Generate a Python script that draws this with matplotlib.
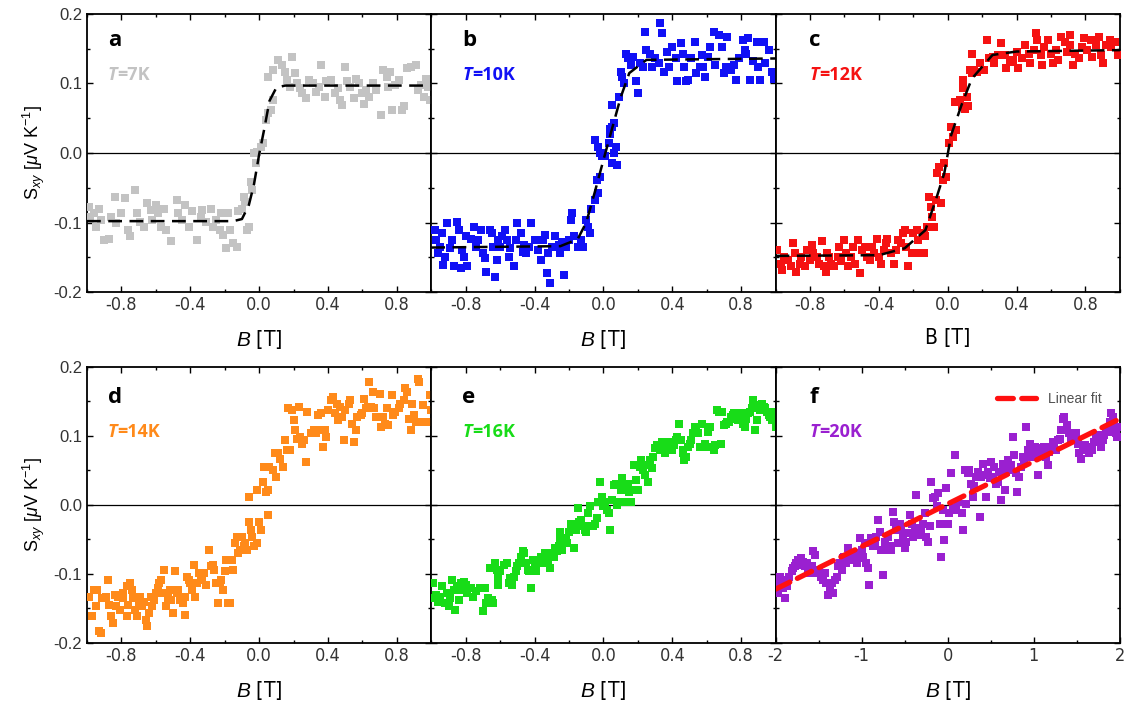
import numpy as np
import matplotlib
matplotlib.use('Agg')
import matplotlib.pyplot as plt
from matplotlib.ticker import MultipleLocator, FormatStrFormatter
from matplotlib import font_manager as fm

plt.rcParams['axes.unicode_minus'] = False
plt.rcParams['mathtext.fontset'] = 'custom'
plt.rcParams['mathtext.rm'] = 'Liberation Sans'
plt.rcParams['mathtext.it'] = 'Liberation Sans:italic'

# ---------------- data: (B [T], S_xy [uV/K]) ----------------
a_pts = [(-0.99,-0.077),(-0.98,-0.092),(-0.96,-0.087),(-0.95,-0.106),(-0.93,-0.080),(-0.92,-0.096),
         (-0.90,-0.125),(-0.87,-0.123),(-0.86,-0.092),(-0.84,-0.063),(-0.83,-0.101),(-0.80,-0.087),
         (-0.78,-0.065),(-0.76,-0.111),(-0.75,-0.120),(-0.72,-0.053),(-0.71,-0.087),(-0.69,-0.099),
         (-0.67,-0.106),(-0.65,-0.072),(-0.63,-0.082),(-0.62,-0.096),(-0.60,-0.075),(-0.59,-0.087),
         (-0.57,-0.106),(-0.55,-0.080),(-0.54,-0.111),(-0.51,-0.127),(-0.48,-0.068),(-0.47,-0.087),
         (-0.45,-0.096),(-0.43,-0.075),(-0.41,-0.106),(-0.39,-0.084),(-0.36,-0.125),(-0.34,-0.092),
         (-0.33,-0.082),(-0.31,-0.099),(-0.28,-0.080),(-0.27,-0.106),(-0.25,-0.096),(-0.23,-0.111),
         (-0.22,-0.087),(-0.21,-0.118),(-0.19,-0.137),(-0.18,-0.087),(-0.17,-0.111),(-0.15,-0.130),
         (-0.13,-0.135),(-0.12,-0.084),(-0.10,-0.080),(-0.09,-0.063),(-0.08,-0.070),(-0.07,-0.111),
         (-0.06,-0.106),(-0.05,-0.041),(-0.04,-0.053),(-0.03,0.000),(-0.02,-0.015),(-0.01,0.002),
         (0.01,0.009),(0.02,0.014),(0.04,0.047),(0.05,0.057),(0.07,0.062),(0.08,0.076),(0.05,0.110),
         (0.08,0.119),(0.11,0.134),(0.13,0.126),(0.15,0.117),(0.16,0.105),(0.18,0.095),(0.19,0.138),
         (0.21,0.115),(0.22,0.100),(0.24,0.093),(0.25,0.086),(0.27,0.079),(0.29,0.105),(0.31,0.100),
         (0.33,0.088),(0.35,0.095),(0.36,0.126),(0.38,0.081),(0.39,0.103),(0.42,0.105),(0.44,0.086),
         (0.46,0.093),(0.47,0.076),(0.48,0.069),(0.50,0.124),(0.51,0.103),(0.53,0.095),(0.55,0.079),
         (0.56,0.107),(0.58,0.100),(0.60,0.086),(0.61,0.071),(0.62,0.091),(0.64,0.081),(0.66,0.100),
         (0.68,0.091),(0.71,0.055),(0.72,0.119),(0.74,0.110),(0.75,0.095),(0.76,0.117),(0.77,0.062),
         (0.79,0.098),(0.81,0.105),(0.83,0.062),(0.84,0.067),(0.86,0.122),(0.88,0.124),(0.91,0.126),
         (0.92,0.091),(0.94,0.098),(0.96,0.081),(0.97,0.107),(0.98,0.095),(0.99,0.076)]

b_pts = [(-0.98,-0.111),(-0.97,-0.125),(-0.96,-0.144),(-0.95,-0.135),(-0.94,-0.115),(-0.93,-0.161),
         (-0.92,-0.149),(-0.91,-0.101),(-0.89,-0.137),(-0.88,-0.125),(-0.87,-0.163),(-0.85,-0.099),
         (-0.84,-0.111),(-0.83,-0.166),(-0.82,-0.139),(-0.81,-0.149),(-0.80,-0.120),(-0.79,-0.163),
         (-0.77,-0.123),(-0.75,-0.106),(-0.74,-0.135),(-0.73,-0.125),(-0.71,-0.111),(-0.70,-0.144),
         (-0.69,-0.151),(-0.68,-0.171),(-0.66,-0.111),(-0.65,-0.115),(-0.64,-0.135),(-0.63,-0.178),
         (-0.62,-0.154),(-0.61,-0.125),(-0.60,-0.135),(-0.59,-0.120),(-0.57,-0.111),(-0.56,-0.125),
         (-0.55,-0.149),(-0.54,-0.137),(-0.52,-0.163),(-0.51,-0.125),(-0.50,-0.101),(-0.48,-0.115),
         (-0.47,-0.142),(-0.46,-0.132),(-0.45,-0.144),(-0.43,-0.135),(-0.42,-0.101),(-0.40,-0.125),
         (-0.38,-0.139),(-0.36,-0.154),(-0.35,-0.125),(-0.34,-0.118),(-0.33,-0.173),(-0.32,-0.144),
         (-0.31,-0.187),(-0.30,-0.135),(-0.28,-0.120),(-0.26,-0.132),(-0.25,-0.144),(-0.24,-0.128),
         (-0.23,-0.175),(-0.22,-0.135),(-0.20,-0.125),(-0.19,-0.096),(-0.18,-0.087),(-0.17,-0.120),
         (-0.15,-0.135),(-0.13,-0.125),(-0.12,-0.135),(-0.10,-0.096),(-0.09,-0.106),(-0.08,-0.115),
         (-0.07,-0.080),(-0.05,-0.068),(-0.04,-0.039),(-0.03,-0.058),(-0.02,-0.034),(-0.01,-0.005),
         (-0.05,0.019),(-0.03,0.009),(-0.02,0.000),(0.00,0.000),(0.01,-0.005),(0.03,0.014),
         (0.04,0.028),(0.05,-0.015),(0.06,0.000),(0.07,0.009),(0.08,-0.017),(0.04,0.035),(0.05,0.038),
         (0.06,0.043),(0.05,0.069),(0.09,0.081),(0.10,0.117),(0.11,0.110),(0.12,0.100),(0.13,0.143),
         (0.14,0.136),(0.16,0.126),(0.17,0.138),(0.19,0.103),(0.20,0.086),(0.21,0.129),(0.23,0.124),
         (0.24,0.174),(0.25,0.148),(0.27,0.143),(0.28,0.124),(0.30,0.136),(0.32,0.129),(0.33,0.187),
         (0.34,0.172),(0.35,0.117),(0.37,0.146),(0.38,0.124),(0.40,0.153),(0.42,0.136),(0.43,0.103),
         (0.45,0.158),(0.46,0.143),(0.47,0.124),(0.48,0.103),(0.49,0.105),(0.51,0.136),(0.53,0.160),
         (0.54,0.115),(0.56,0.124),(0.57,0.141),(0.58,0.124),(0.59,0.110),(0.61,0.138),(0.62,0.153),
         (0.64,0.174),(0.65,0.126),(0.67,0.170),(0.69,0.153),(0.70,0.115),(0.71,0.124),(0.72,0.167),
         (0.74,0.119),(0.76,0.126),(0.77,0.105),(0.79,0.136),(0.81,0.162),(0.82,0.148),(0.83,0.143),
         (0.84,0.165),(0.85,0.105),(0.87,0.133),(0.89,0.160),(0.90,0.124),(0.91,0.105),(0.93,0.160),
         (0.94,0.129),(0.96,0.148),(0.98,0.117),(0.99,0.107)]

c_pts = [(-0.99,-0.139),(-0.97,-0.159),(-0.96,-0.168),(-0.95,-0.149),(-0.93,-0.154),(-0.91,-0.163),
         (-0.90,-0.130),(-0.89,-0.144),(-0.88,-0.171),(-0.86,-0.159),(-0.85,-0.149),(-0.83,-0.163),
         (-0.82,-0.139),(-0.80,-0.154),(-0.79,-0.132),(-0.78,-0.144),(-0.76,-0.149),(-0.75,-0.159),
         (-0.73,-0.127),(-0.72,-0.163),(-0.71,-0.171),(-0.70,-0.144),(-0.69,-0.149),(-0.68,-0.159),
         (-0.66,-0.163),(-0.64,-0.149),(-0.63,-0.135),(-0.62,-0.156),(-0.60,-0.125),(-0.59,-0.144),
         (-0.58,-0.163),(-0.56,-0.149),(-0.55,-0.135),(-0.54,-0.159),(-0.52,-0.125),(-0.51,-0.173),
         (-0.50,-0.139),(-0.48,-0.135),(-0.47,-0.149),(-0.45,-0.154),(-0.44,-0.135),(-0.43,-0.144),
         (-0.41,-0.123),(-0.40,-0.149),(-0.39,-0.159),(-0.37,-0.139),(-0.36,-0.130),(-0.35,-0.123),
         (-0.33,-0.144),(-0.31,-0.159),(-0.30,-0.139),(-0.29,-0.125),(-0.27,-0.130),(-0.26,-0.115),
         (-0.25,-0.111),(-0.24,-0.135),(-0.23,-0.163),(-0.21,-0.144),(-0.20,-0.115),(-0.18,-0.111),
         (-0.17,-0.125),(-0.16,-0.144),(-0.14,-0.115),(-0.14,-0.144),(-0.13,-0.120),(-0.12,-0.106),
         (-0.11,-0.063),(-0.10,-0.077),(-0.08,-0.106),(-0.09,-0.092),(-0.07,-0.068),(-0.06,-0.029),
         (-0.05,-0.020),(-0.04,-0.072),(-0.03,-0.039),(-0.02,-0.015),(-0.01,-0.034),(0.01,0.014),
         (0.02,0.038),(0.03,0.023),(0.05,0.033),(0.04,0.074),(0.07,0.076),(0.08,0.067),(0.09,0.093),
         (0.10,0.064),(0.11,0.081),(0.12,0.067),(0.09,0.105),(0.13,0.119),(0.14,0.115),(0.14,0.143),
         (0.15,0.119),(0.17,0.117),(0.19,0.129),(0.21,0.119),(0.23,0.162),(0.24,0.136),(0.26,0.138),
         (0.27,0.129),(0.29,0.141),(0.31,0.158),(0.33,0.141),(0.34,0.122),(0.36,0.131),(0.38,0.134),
         (0.40,0.146),(0.41,0.122),(0.43,0.136),(0.45,0.155),(0.47,0.143),(0.48,0.129),(0.50,0.148),
         (0.51,0.172),(0.52,0.162),(0.54,0.141),(0.55,0.126),(0.56,0.153),(0.58,0.162),(0.60,0.143),
         (0.61,0.129),(0.63,0.148),(0.64,0.134),(0.66,0.167),(0.68,0.160),(0.69,0.146),(0.71,0.170),
         (0.71,0.155),(0.73,0.126),(0.74,0.143),(0.76,0.136),(0.78,0.153),(0.79,0.165),(0.81,0.148),
         (0.83,0.162),(0.84,0.138),(0.86,0.155),(0.88,0.167),(0.89,0.141),(0.90,0.129),(0.92,0.155),
         (0.94,0.162),(0.95,0.153),(0.97,0.160),(0.99,0.141)]

d_pts = [(-0.99,-0.133),(-0.97,-0.161),(-0.96,-0.123),(-0.95,-0.147),(-0.94,-0.123),(-0.93,-0.183),
         (-0.92,-0.186),(-0.91,-0.135),(-0.89,-0.133),(-0.88,-0.108),(-0.87,-0.145),(-0.86,-0.161),
         (-0.85,-0.171),(-0.84,-0.130),(-0.83,-0.147),(-0.82,-0.133),(-0.81,-0.152),(-0.79,-0.135),
         (-0.79,-0.128),(-0.77,-0.161),(-0.77,-0.118),(-0.76,-0.145),(-0.75,-0.113),(-0.74,-0.123),
         (-0.73,-0.135),(-0.72,-0.152),(-0.71,-0.161),(-0.70,-0.142),(-0.69,-0.133),(-0.68,-0.147),
         (-0.67,-0.140),(-0.66,-0.166),(-0.65,-0.176),(-0.64,-0.157),(-0.63,-0.133),(-0.62,-0.147),
         (-0.61,-0.137),(-0.60,-0.128),(-0.59,-0.120),(-0.58,-0.113),(-0.57,-0.108),(-0.56,-0.128),
         (-0.55,-0.094),(-0.54,-0.147),(-0.53,-0.135),(-0.52,-0.123),(-0.51,-0.137),(-0.50,-0.157),
         (-0.49,-0.096),(-0.48,-0.128),(-0.47,-0.123),(-0.46,-0.137),(-0.45,-0.135),(-0.44,-0.142),
         (-0.43,-0.159),(-0.43,-0.133),(-0.42,-0.104),(-0.41,-0.108),(-0.40,-0.113),(-0.39,-0.123),
         (-0.38,-0.087),(-0.37,-0.133),(-0.36,-0.113),(-0.35,-0.099),(-0.34,-0.108),(-0.33,-0.104),
         (-0.32,-0.099),(-0.31,-0.116),(-0.29,-0.065),(-0.28,-0.089),(-0.27,-0.087),(-0.26,-0.094),
         (-0.25,-0.113),(-0.24,-0.142),(-0.23,-0.113),(-0.22,-0.108),(-0.21,-0.123),(-0.20,-0.096),
         (-0.19,-0.080),(-0.18,-0.142),(-0.17,-0.142),(-0.16,-0.080),(-0.15,-0.094),(-0.14,-0.055),
         (-0.13,-0.046),(-0.12,-0.070),(-0.11,-0.065),(-0.10,-0.046),(-0.09,-0.060),(-0.08,-0.055),
         (-0.07,-0.065),(-0.06,-0.024),(-0.05,-0.036),(-0.04,-0.046),(-0.03,-0.060),(-0.01,-0.055),
         (0.00,-0.024),(0.01,-0.036),(0.05,-0.014),(-0.06,0.012),(-0.01,0.022),(0.02,0.034),
         (0.03,0.055),(0.04,0.019),(0.05,0.022),(0.06,0.055),(0.08,0.051),(0.09,0.075),(0.10,0.041),
         (0.11,0.075),(0.12,0.067),(0.14,0.055),(0.15,0.094),(0.16,0.080),(0.17,0.140),(0.18,0.080),
         (0.19,0.137),(0.20,0.123),(0.21,0.108),(0.22,0.096),(0.23,0.142),(0.24,0.099),(0.25,0.089),
         (0.26,0.094),(0.27,0.063),(0.28,0.135),(0.30,0.104),(0.32,0.108),(0.33,0.104),(0.34,0.130),
         (0.35,0.108),(0.36,0.133),(0.37,0.084),(0.38,0.108),(0.39,0.099),(0.40,0.137),(0.42,0.152),
         (0.43,0.157),(0.44,0.133),(0.45,0.147),(0.46,0.123),(0.47,0.142),(0.48,0.128),(0.49,0.094),
         (0.50,0.137),(0.52,0.147),(0.53,0.152),(0.54,0.118),(0.55,0.092),(0.56,0.108),(0.57,0.128),
         (0.59,0.130),(0.60,0.133),(0.61,0.154),(0.62,0.140),(0.63,0.142),(0.64,0.178),(0.65,0.142),
         (0.66,0.164),(0.67,0.140),(0.68,0.128),(0.70,0.161),(0.71,0.113),(0.72,0.128),(0.73,0.118),
         (0.74,0.140),(0.75,0.116),(0.77,0.159),(0.78,0.130),(0.79,0.135),(0.81,0.140),(0.82,0.147),
         (0.84,0.152),(0.85,0.169),(0.86,0.164),(0.87,0.125),(0.88,0.108),(0.89,0.147),(0.90,0.130),
         (0.91,0.120),(0.92,0.183),(0.93,0.178),(0.95,0.145),(0.96,0.120),(0.98,0.120),(0.99,0.159),
         (1.00,0.137)]

e_pts = [(-0.99,-0.113),(-0.98,-0.135),(-0.97,-0.130),(-0.96,-0.140),(-0.95,-0.133),(-0.94,-0.118),
         (-0.92,-0.142),(-0.91,-0.128),(-0.90,-0.147),(-0.89,-0.135),(-0.88,-0.108),(-0.87,-0.123),
         (-0.86,-0.152),(-0.85,-0.118),(-0.84,-0.137),(-0.83,-0.113),(-0.82,-0.123),(-0.81,-0.111),
         (-0.80,-0.116),(-0.79,-0.128),(-0.77,-0.120),(-0.76,-0.133),(-0.74,-0.125),(-0.72,-0.120),
         (-0.70,-0.154),(-0.69,-0.120),(-0.68,-0.142),(-0.67,-0.135),(-0.66,-0.092),(-0.65,-0.137),
         (-0.64,-0.142),(-0.63,-0.084),(-0.62,-0.094),(-0.61,-0.104),(-0.61,-0.116),(-0.60,-0.096),
         (-0.58,-0.087),(-0.56,-0.084),(-0.55,-0.113),(-0.54,-0.106),(-0.53,-0.116),(-0.52,-0.104),
         (-0.51,-0.096),(-0.50,-0.089),(-0.49,-0.084),(-0.48,-0.075),(-0.47,-0.067),(-0.46,-0.070),
         (-0.45,-0.084),(-0.44,-0.094),(-0.43,-0.096),(-0.42,-0.120),(-0.41,-0.080),(-0.40,-0.087),
         (-0.39,-0.096),(-0.38,-0.080),(-0.37,-0.084),(-0.36,-0.075),(-0.35,-0.082),(-0.34,-0.070),
         (-0.33,-0.077),(-0.32,-0.084),(-0.31,-0.092),(-0.30,-0.070),(-0.29,-0.075),(-0.28,-0.063),
         (-0.27,-0.067),(-0.26,-0.060),(-0.25,-0.051),(-0.25,-0.039),(-0.24,-0.065),(-0.23,-0.055),
         (-0.22,-0.048),(-0.21,-0.055),(-0.20,-0.039),(-0.19,-0.027),(-0.18,-0.029),(-0.17,-0.063),
         (-0.16,-0.036),(-0.15,-0.005),(-0.14,-0.024),(-0.13,-0.022),(-0.12,-0.031),(-0.11,-0.036),
         (-0.10,-0.039),(-0.09,-0.012),(-0.08,-0.002),(-0.07,-0.031),(-0.06,-0.031),(-0.05,-0.027),
         (-0.04,-0.019),(-0.03,0.005),(-0.02,0.034),(-0.01,0.012),(0.00,-0.002),(0.01,0.005),
         (0.02,-0.007),(0.03,-0.012),(0.04,-0.036),(0.05,0.007),(0.06,0.029),(0.07,0.031),(0.08,0.000),
         (0.09,0.005),(0.10,0.022),(0.11,0.034),(0.11,0.039),(0.12,0.027),(0.13,0.005),(0.14,0.031),
         (0.15,0.019),(0.16,0.005),(0.17,0.022),(0.18,0.058),(0.19,0.036),(0.20,0.022),(0.21,0.055),
         (0.22,0.065),(0.23,0.051),(0.24,0.043),(0.25,0.058),(0.26,0.034),(0.27,0.065),(0.28,0.053),
         (0.29,0.070),(0.30,0.082),(0.31,0.087),(0.32,0.087),(0.33,0.080),(0.34,0.092),(0.35,0.080),
         (0.36,0.075),(0.37,0.084),(0.38,0.092),(0.39,0.084),(0.40,0.080),(0.41,0.087),(0.42,0.094),
         (0.43,0.099),(0.44,0.118),(0.45,0.094),(0.46,0.080),(0.46,0.075),(0.47,0.065),(0.48,0.070),
         (0.49,0.084),(0.50,0.089),(0.51,0.094),(0.52,0.104),(0.53,0.113),(0.54,0.108),(0.55,0.104),
         (0.56,0.084),(0.57,0.118),(0.58,0.084),(0.59,0.089),(0.60,0.084),(0.61,0.106),(0.62,0.113),
         (0.63,0.084),(0.64,0.080),(0.65,0.087),(0.66,0.137),(0.67,0.135),(0.68,0.089),(0.69,0.135),
         (0.70,0.116),(0.71,0.118),(0.72,0.120),(0.73,0.120),(0.74,0.128),(0.75,0.130),(0.76,0.133),
         (0.77,0.125),(0.78,0.123),(0.79,0.128),(0.80,0.133),(0.81,0.118),(0.82,0.125),(0.82,0.113),
         (0.83,0.125),(0.84,0.133),(0.85,0.135),(0.86,0.140),(0.87,0.152),(0.88,0.108),(0.89,0.123),
         (0.90,0.145),(0.91,0.137),(0.92,0.147),(0.93,0.142),(0.94,0.140),(0.95,0.135),(0.96,0.130),
         (0.97,0.128),(0.98,0.123),(0.99,0.135),(1.00,0.113)]

f_pts = [(-1.99,-0.113),(-1.97,-0.128),(-1.95,-0.104),(-1.93,-0.108),(-1.91,-0.120),(-1.89,-0.135),
         (-1.87,-0.118),(-1.85,-0.104),(-1.81,-0.096),(-1.80,-0.092),(-1.78,-0.089),(-1.76,-0.084),
         (-1.74,-0.080),(-1.72,-0.087),(-1.70,-0.077),(-1.68,-0.082),(-1.66,-0.089),(-1.64,-0.084),
         (-1.62,-0.094),(-1.60,-0.099),(-1.58,-0.089),(-1.56,-0.067),(-1.54,-0.072),(-1.53,-0.099),
         (-1.51,-0.096),(-1.49,-0.094),(-1.47,-0.104),(-1.45,-0.108),(-1.43,-0.099),(-1.41,-0.113),
         (-1.39,-0.130),(-1.37,-0.125),(-1.35,-0.113),(-1.33,-0.128),(-1.31,-0.108),(-1.29,-0.104),
         (-1.27,-0.089),(-1.25,-0.084),(-1.23,-0.094),(-1.22,-0.077),(-1.20,-0.075),(-1.18,-0.084),
         (-1.16,-0.063),(-1.14,-0.070),(-1.12,-0.075),(-1.10,-0.080),(-1.08,-0.070),(-1.06,-0.084),
         (-1.04,-0.077),(-1.02,-0.048),(-1.00,-0.065),(-0.98,-0.075),(-0.96,-0.055),(-0.95,-0.084),
         (-0.93,-0.092),(-0.91,-0.116),(-0.89,-0.048),(-0.87,-0.060),(-0.85,-0.055),(-0.83,-0.046),
         (-0.81,-0.022),(-0.79,-0.039),(-0.77,-0.065),(-0.75,-0.101),(-0.73,-0.053),(-0.71,-0.065),
         (-0.69,-0.046),(-0.67,-0.060),(-0.66,-0.065),(-0.64,-0.010),(-0.62,-0.024),(-0.60,-0.036),
         (-0.58,-0.055),(-0.56,-0.027),(-0.54,-0.036),(-0.52,-0.043),(-0.50,-0.063),(-0.48,-0.053),
         (-0.46,-0.041),(-0.44,-0.014),(-0.42,-0.027),(-0.40,-0.046),(-0.38,-0.036),(-0.37,0.014),
         (-0.35,-0.034),(-0.33,-0.043),(-0.31,-0.039),(-0.29,-0.027),(-0.27,-0.012),(-0.25,-0.046),
         (-0.23,-0.053),(-0.21,-0.031),(-0.19,0.034),(-0.17,0.010),(-0.15,0.012),(-0.13,-0.002),
         (-0.11,0.017),(-0.09,-0.027),(-0.08,-0.075),(-0.06,-0.007),(-0.04,-0.051),(-0.02,0.024),
         (0.00,-0.027),(0.02,-0.012),(0.04,0.046),(0.06,-0.005),(0.08,0.072),(0.10,-0.007),
         (0.12,0.005),(0.16,-0.012),(0.18,-0.036),(0.20,0.051),(0.21,0.002),(0.23,0.046),(0.25,0.051),
         (0.27,0.031),(0.29,0.012),(0.31,0.027),(0.33,0.041),(0.35,0.048),(0.37,-0.017),(0.39,0.041),
         (0.41,0.060),(0.43,0.043),(0.45,0.012),(0.47,0.048),(0.49,0.039),(0.50,0.063),(0.52,0.041),
         (0.54,0.055),(0.56,0.031),(0.58,0.034),(0.60,0.048),(0.62,0.007),(0.64,0.060),(0.66,0.022),
         (0.68,0.048),(0.70,0.065),(0.72,0.051),(0.74,0.058),(0.76,0.099),(0.77,0.072),(0.79,0.046),
         (0.81,0.019),(0.83,0.041),(0.85,0.055),(0.87,0.070),(0.89,0.065),(0.91,0.113),(0.93,0.080),
         (0.95,0.089),(0.97,0.070),(0.99,0.075),(1.01,0.084),(1.03,0.070),(1.05,0.043),(1.06,0.082),
         (1.08,0.080),(1.10,0.075),(1.12,0.084),(1.14,0.070),(1.16,0.058),(1.18,0.077),(1.20,0.084),
         (1.22,0.092),(1.24,0.089),(1.26,0.080),(1.28,0.094),(1.30,0.096),(1.32,0.108),(1.34,0.125),
         (1.35,0.128),(1.37,0.108),(1.39,0.116),(1.41,0.104),(1.43,0.096),(1.45,0.101),(1.47,0.099),
         (1.49,0.104),(1.51,0.089),(1.53,0.075),(1.55,0.067),(1.57,0.080),(1.59,0.087),(1.61,0.080),
         (1.63,0.084),(1.64,0.075),(1.66,0.082),(1.68,0.080),(1.70,0.092),(1.72,0.101),(1.74,0.094),
         (1.76,0.099),(1.78,0.084),(1.80,0.094),(1.82,0.101),(1.84,0.108),(1.86,0.106),(1.88,0.120),
         (1.90,0.133),(1.92,0.128),(1.93,0.116),(1.95,0.104),(1.97,0.099),(1.99,0.113)]

# fitted curves
a_fit_B = [-1.0, -0.15, -0.10, -0.06, -0.03, 0.0, 0.03, 0.06, 0.10, 0.15, 1.0]
a_fit_S = [-0.098, -0.098, -0.095, -0.075, -0.045, -0.002, 0.035, 0.075, 0.094, 0.097, 0.097]
b_fit_B = [-1.0, -0.25, -0.15, -0.10, -0.05, 0.0, 0.05, 0.10, 0.15, 0.25, 1.0]
b_fit_S = [-0.136, -0.134, -0.124, -0.100, -0.056, -0.010, 0.035, 0.080, 0.115, 0.134, 0.136]
c_fit_B = [-1.0, -0.40, -0.25, -0.13, -0.07, -0.02, 0.02, 0.08, 0.14, 0.26, 0.40, 1.0]
c_fit_S = [-0.148, -0.147, -0.137, -0.111, -0.068, -0.029, 0.026, 0.069, 0.107, 0.141, 0.146, 0.148]
f_fit_B = [-2.0, 2.0]
f_fit_S = [-0.122, 0.125]

letters = ['a', 'b', 'c', 'd', 'e', 'f']
temps = ['=7K', '=10K', '=12K', '=14K', '=16K', '=20K']
colors = ['#c3c3c3', '#1010f5', '#f51212', '#ff8a1a', '#18dc18', '#9a20d0']

# condensed font for the B-axis numbers, if one is installed
names = set(f.name for f in fm.fontManager.ttflist)
narrow = 'Liberation Sans Narrow' if 'Liberation Sans Narrow' in names else 'DejaVu Sans'
narrow_stretch = 'normal' if narrow == 'Liberation Sans Narrow' else 'condensed'

fig = plt.figure(figsize=(11.27, 7.09), dpi=100)

W = 0.3055
L0 = 0.0772
rows = [(0.5881, 0.3922), (0.0931, 0.3893)]
panels = [a_pts, b_pts, c_pts, d_pts, e_pts, f_pts]
fits = [(a_fit_B, a_fit_S), (b_fit_B, b_fit_S), (c_fit_B, c_fit_S), None, None, None]
txt_x = [0.061, 0.09, 0.098, 0.061, 0.09, 0.098]

for i in range(6):
    r, c = divmod(i, 3)
    bottom, height = rows[r]
    ax = fig.add_axes([L0 + c * W, bottom, W, height])
    B, S = zip(*panels[i])
    ax.scatter(B, S, s=26, marker='s', color=colors[i], linewidths=0, zorder=3)
    if fits[i] is not None:
        ax.plot(fits[i][0], fits[i][1], color='k', lw=1.8, dashes=(5.5, 3), zorder=4)
    ax.axhline(0, color='k', lw=0.9, zorder=2)

    if i == 5:
        ax.plot(f_fit_B, f_fit_S, color='#ff1010', lw=3.8, dashes=(3, 1.6), zorder=4,
                label='Linear fit', dash_capstyle='round')
        ax.set_xlim(-2, 2)
        ax.xaxis.set_major_locator(MultipleLocator(1))
        ax.xaxis.set_minor_locator(MultipleLocator(0.5))
        ax.legend(loc='upper right', bbox_to_anchor=(0.985, 0.955), frameon=False,
                  prop={'family': 'Liberation Sans', 'size': 10}, handlelength=2.8,
                  handletextpad=0.9, labelcolor='#505050')
    else:
        ax.set_xlim(-1, 1)
        ax.set_xticks([-0.8, -0.4, 0.0, 0.4, 0.8])
        ax.xaxis.set_minor_locator(MultipleLocator(0.2))
    ax.set_ylim(-0.2, 0.2)
    ax.yaxis.set_major_locator(MultipleLocator(0.1))
    ax.yaxis.set_minor_locator(MultipleLocator(0.05))
    ax.yaxis.set_major_formatter(FormatStrFormatter('%.1f'))

    ax.tick_params(which='both', direction='in', top=True, right=True, width=1)
    ax.tick_params(which='major', length=4)
    ax.tick_params(which='minor', length=2.5)
    ax.tick_params(axis='x', pad=3, labelsize=13, labelcolor='#333333')
    if c == 0:
        ax.tick_params(axis='y', labelsize=12, labelcolor='#333333',
                       labelfontfamily='Liberation Sans')
        ax.set_ylabel(r'S$_{xy}$ [$\mu$V K$^{-1}$]', fontsize=13, family='Liberation Sans',
                      labelpad=5)
    else:
        ax.tick_params(axis='y', labelleft=False)
    for sp in ax.spines.values():
        sp.set_linewidth(1.3)

    if i == 2:
        ax.set_xlabel('B [T]', fontsize=15, family=narrow, fontstretch=narrow_stretch,
                      labelpad=10)
    else:
        ax.set_xlabel('$B$ [T]', fontsize=15, family=narrow, fontstretch=narrow_stretch,
                      labelpad=10)

    ax.text(txt_x[i], 0.905 if r == 0 else 0.89, letters[i], transform=ax.transAxes,
            fontsize=16, fontweight='bold', family='Open Sans', va='center', ha='left')
    t = ax.text(txt_x[i], 0.78 if r == 0 else 0.765, 'T', transform=ax.transAxes,
                fontsize=13, fontweight='bold', style='italic', family='Open Sans',
                color=colors[i], va='center', ha='left')
    ax.annotate(temps[i], xy=(1, 0), xycoords=t, va='bottom', ha='left',
                fontsize=13, fontweight='bold', family='Open Sans', color=colors[i])

    # keep condensed font on tick labels after they are regenerated
    fig.canvas.draw()
    for lab in ax.get_xticklabels():
        lab.set_fontfamily(narrow)
        lab.set_fontstretch(narrow_stretch)

fig.savefig('out.png', dpi=100)
